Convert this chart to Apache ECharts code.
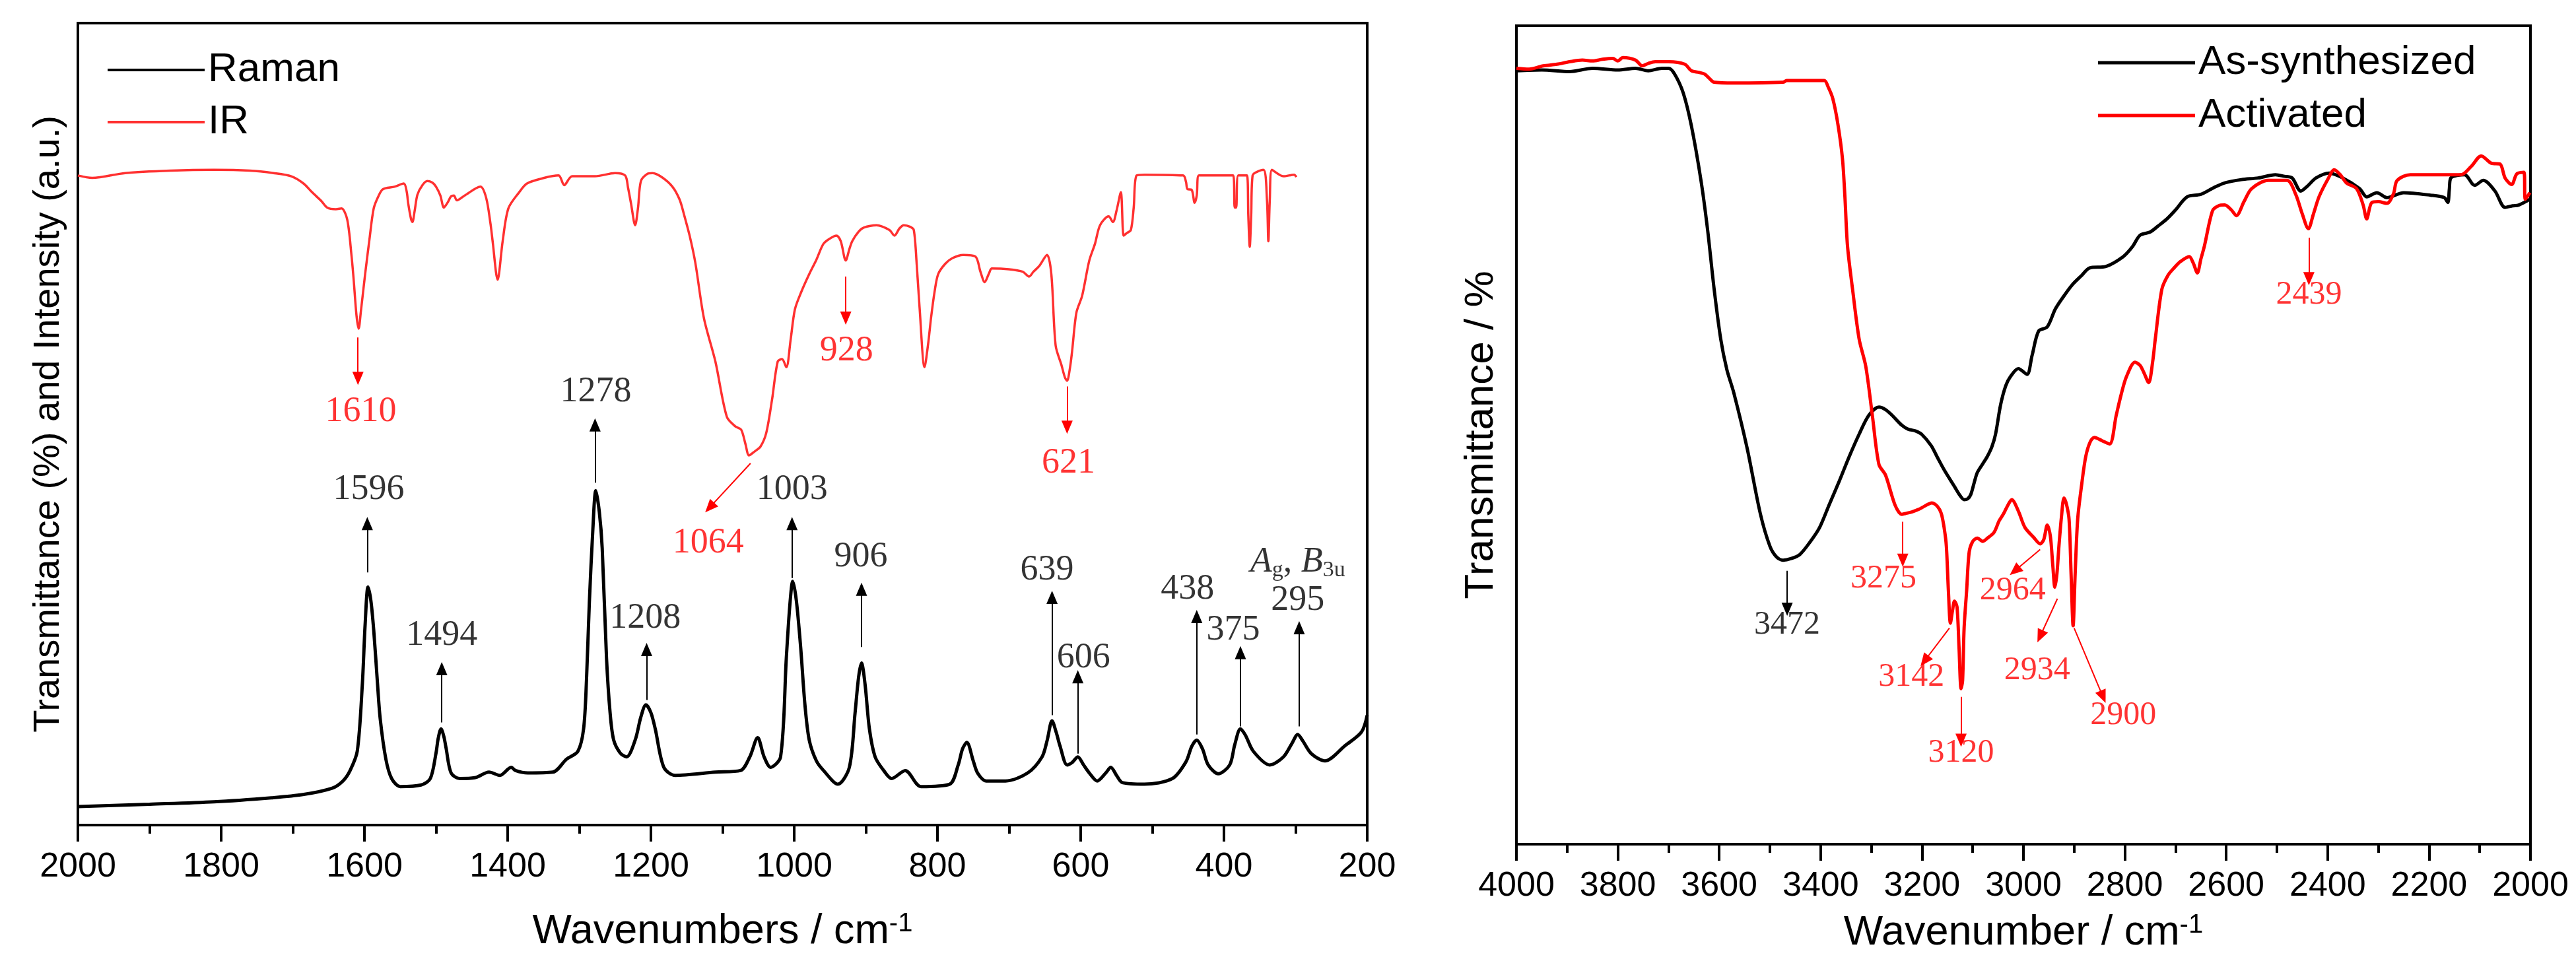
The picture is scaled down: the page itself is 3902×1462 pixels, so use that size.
<!DOCTYPE html>
<html>
<head>
<meta charset="utf-8">
<script src="https://cdn.jsdelivr.net/npm/echarts/dist/echarts.min.js"></script>
<style>
  html, body { margin: 0; padding: 0; background: #fff; }
  #chart { width: 3902px; height: 1462px; }
</style>
</head>
<body>
<div id="chart"></div>
<script>
// ---- data: [wavenumber, relative level 0..100] ----
const raman = [
  [2000,2.3],[1900,2.6],[1810,2.9],[1730,3.4],[1686,3.8],[1645,4.6],[1630,5.5],[1620,6.8],[1610,9.2],
  [1603,17.4],[1599,25],[1595,29.7],[1591,28],[1587,24.3],[1582,18],[1578,13.3],[1570,8.2],[1562,5.8],
  [1550,4.8],[1521,5.0],[1508,5.8],[1500,9],[1497,10.8],[1493,12.0],[1489,11],[1486,9.6],[1479,6.5],
  [1467,5.8],[1446,5.9],[1426,6.6],[1411,6.2],[1395,7.2],[1389,6.8],[1372,6.5],[1337,6.6],[1318,8.2],
  [1302,9.2],[1294,12.0],[1290,18],[1286,27.7],[1281,37],[1277,41.7],[1272,39],[1268,34.5],[1262,20.8],
  [1257,14],[1252,10.6],[1243,9],[1234,8.5],[1222,10.6],[1214,13.5],[1207,15.0],[1200,14],[1194,12.0],
  [1182,7.2],[1166,6.2],[1110,6.6],[1075,6.8],[1062,8.5],[1051,10.9],[1042,8.5],[1033,7.2],[1019,8.5],
  [1011,20.8],[1006,27.5],[1002,30.4],[997,28],[991,22.2],[985,15],[979,10.6],[969,8],[959,6.8],
  [939,5.1],[923,7.2],[915,14.0],[910,18.5],[906,20.2],[901,17.5],[895,12.0],[887,8.5],[875,6.8],
  [864,5.8],[845,6.8],[823,4.8],[783,5.1],[771,7.5],[765,9.5],[759,10.3],[750,8],[744,6.5],[732,5.5],
  [705,5.5],[674,6.5],[654,8.5],[647,10.5],[640,13.0],[634,11.5],[629,9.9],[619,7.5],[612,7.8],
  [604,8.5],[596,7.5],[588,6.5],[577,5.5],[565,6.5],[558,7.2],[550,6.2],[542,5.3],[511,5.1],[472,5.8],
  [453,7.9],[445,9.8],[438,10.6],[430,9.5],[422,7.5],[408,6.4],[392,7.5],[385,10],[377,12.0],[370,11.2],
  [359,9.2],[336,7.5],[317,8.5],[305,10.2],[297,11.3],[290,10.5],[278,8.9],[259,8.0],[231,9.9],
  [208,11.6],[200,13.7]
];

const ir = [
  [2000,81.0],[1980,80.7],[1934,81.3],[1870,81.6],[1810,81.7],[1760,81.6],[1727,81.3],[1702,80.9],
  [1685,80.0],[1673,78.9],[1660,77.8],[1652,77.0],[1640,76.8],[1632,76.9],[1624,75.5],[1618,71],
  [1615,68.0],[1611,63.5],[1608,61.9],[1605,64],[1599,68.7],[1593,73],[1587,76.9],[1580,78.5],
  [1574,79.3],[1558,79.6],[1545,80.0],[1541,79],[1539,77.6],[1535,75.6],[1533,75.2],[1530,76.5],
  [1526,78.6],[1519,79.8],[1512,80.3],[1505,80.1],[1500,79.6],[1494,78.5],[1489,77.0],[1484,77.6],
  [1479,78.4],[1475,78.5],[1471,77.9],[1460,78.5],[1438,79.6],[1430,78.2],[1424,75],[1421,72.8],
  [1414,68.0],[1407,72.8],[1399,76.9],[1384,78.9],[1373,80.0],[1349,80.7],[1329,81.0],[1321,79.8],
  [1310,80.9],[1278,80.9],[1250,81.3],[1236,81.0],[1232,79.5],[1228,77.6],[1222,74.8],[1218,77],
  [1214,80.3],[1205,81.2],[1198,81.3],[1185,80.8],[1170,79.6],[1160,78],[1154,76.2],[1146,73.5],
  [1138,70.1],[1126,63.2],[1110,57.8],[1094,50.9],[1082,49.7],[1074,49.3],[1068,47.5],[1063,46.1],
  [1055,46.6],[1047,47.2],[1039,48.9],[1031,53],[1023,57.8],[1017,58.1],[1011,57.1],[1005,60.5],
  [999,64.3],[990,66.5],[979,68.7],[969,70.5],[959,72.5],[949,73.2],[941,73.5],[935,72.8],[928,70.4],
  [923,71.8],[919,72.8],[910,74.0],[903,74.5],[885,74.8],[867,74.2],[860,73.5],[853,74.4],[847,74.8],
  [838,74.6],[833,74.2],[829,70],[825,64.6],[818,57.1],[813,60],[809,63.2],[804,66.5],[799,68.7],
  [789,70],[779,70.7],[764,71.1],[747,70.9],[740,69.0],[734,67.7],[728,68.8],[724,69.4],[700,69.3],
  [681,69.0],[672,68.4],[666,69.0],[658,69.7],[647,71.1],[641,68.7],[635,59.8],[627,57.4],[622,55.8],
  [619,55.4],[615,57],[612,59.1],[606,63.9],[598,66.0],[588,70.4],[580,72.5],[573,74.8],[561,75.9],
  [555,75.2],[550,76.6],[544,78.9],[540,73.5],[536,73.8],[530,74.2],[526,77],[522,81.0],[511,81.1],
  [457,81.0],[453,80.2],[451,79.3],[445,79.2],[441,77.6],[438,78.5],[435,81.0],[387,81.0],[385,77.0],
  [383,77.0],[380,81.0],[368,81.0],[366,76],[364,72.1],[362,76],[360,81.0],[345,81.7],[340,78],
  [338,72.8],[336,78],[333,81.7],[317,80.9],[302,81.1],[299,80.8]
];

const asSynth = [
  [4000,94.5],[3950,94.6],[3895,94.4],[3850,94.8],[3800,94.6],[3765,94.8],[3740,94.5],[3713,94.8],
  [3700,94.8],[3688,94.1],[3671,91.8],[3655,87.8],[3636,81.1],[3623,75.1],[3610,67.8],[3597,61.7],
  [3585,58],[3571,55.1],[3545,48.4],[3519,40.4],[3500,36.4],[3487,35.1],[3474,34.7],[3458,34.9],
  [3441,35.4],[3420,37],[3402,38.7],[3383,41.5],[3363,44.4],[3344,47.3],[3324,50.1],[3305,52.4],
  [3285,53.4],[3272,53.1],[3259,52.4],[3240,51.2],[3227,50.7],[3213,50.5],[3201,50.1],[3182,48.7],
  [3170,47.3],[3156,45.7],[3136,43.7],[3125,42.6],[3117,42.1],[3110,42.2],[3104,42.7],[3097,44.2],
  [3091,45.4],[3080,46.5],[3071,47.4],[3062,48.6],[3055,50.1],[3045,53.7],[3035,56],[3026,57.1],
  [3010,58.1],[2993,57.4],[2983,59.7],[2970,62.7],[2953,63.2],[2937,65.4],[2920,67],[2903,68.4],
  [2885,69.5],[2870,70.4],[2837,70.6],[2803,71.8],[2785,73],[2770,74.4],[2750,74.8],[2735,75.5],
  [2717,76.4],[2700,77.5],[2677,79.1],[2650,79.4],[2625,80.2],[2603,80.8],[2570,81.2],[2537,81.4],
  [2503,81.8],[2485,81.6],[2470,81.4],[2453,79.8],[2440,80.4],[2423,81.4],[2397,82.0],[2370,81.4],
  [2337,80.1],[2323,79.1],[2303,79.6],[2283,79.0],[2250,79.6],[2197,79.3],[2170,79.0],[2163,78.4],
  [2160,80],[2157,81.4],[2130,81.8],[2110,80.5],[2093,81.1],[2070,79.8],[2050,77.8],[2035,78.0],
  [2023,78.1],[2001,78.8]
];

const activated = [
  [4000,94.8],[3975,94.7],[3947,95.1],[3920,95.3],[3895,95.6],[3870,95.8],[3850,95.7],[3830,95.9],
  [3810,96.0],[3800,95.7],[3790,96.1],[3765,95.8],[3752,95.1],[3740,95.4],[3726,95.6],[3700,95.6],
  [3668,95.3],[3655,94.5],[3640,94.3],[3629,94.1],[3620,93.6],[3610,93.1],[3571,93.0],[3474,93.1],
  [3467,93.3],[3393,93.3],[3385,92.5],[3376,91.1],[3366,88],[3357,83.8],[3352,79],[3347,73.1],
  [3337,67.8],[3324,61.7],[3311,58.4],[3298,52.4],[3285,46.4],[3272,45.1],[3253,41.4],[3240,40.3],
  [3233,40.4],[3220,40.6],[3207,40.9],[3195,41.3],[3181,41.7],[3170,41.3],[3162,40.4],[3156,38.5],
  [3152,36.4],[3148,31],[3144,27.0],[3140,28.5],[3136,29.7],[3131,29.0],[3127,24],[3123,19.0],
  [3120,20],[3117,26.4],[3112,31],[3107,35.7],[3100,37],[3091,37.4],[3080,37.0],[3071,37.4],
  [3058,38.1],[3048,39.5],[3039,40.4],[3030,41.5],[3023,42.1],[3010,40.7],[2997,38.7],[2980,37.5],
  [2967,36.7],[2960,37.2],[2953,39.0],[2947,37.7],[2942,34],[2938,31.4],[2934,33],[2930,36.4],
  [2925,40],[2920,42.3],[2915,41.5],[2910,39.7],[2906,33],[2902,26.7],[2898,33],[2893,39.7],
  [2885,44],[2877,47.4],[2868,49.2],[2860,49.7],[2845,49.3],[2830,48.9],[2817,52.4],[2807,55],
  [2797,57.1],[2780,58.9],[2770,58.5],[2763,57.7],[2753,56.4],[2745,59],[2740,61.7],[2727,67.8],
  [2715,69.5],[2703,70.4],[2690,71.2],[2673,71.8],[2665,71],[2657,69.8],[2650,71.5],[2643,73.1],
  [2627,77.4],[2615,78.0],[2603,78.1],[2590,77.5],[2580,76.8],[2565,78.5],[2550,80.1],[2517,81.1],
  [2480,81.1],[2463,79.4],[2450,77],[2438,75.2],[2428,77],[2417,79.1],[2400,81.2],[2387,82.4],
  [2375,81.8],[2363,80.8],[2343,80.1],[2330,78.1],[2323,76.4],[2313,78.4],[2300,78.5],[2283,78.3],
  [2270,79.5],[2263,81.1],[2237,81.8],[2137,81.8],[2117,82.8],[2097,84.1],[2077,83.2],[2060,83.1],
  [2050,81.4],[2037,80.6],[2027,81.9],[2013,82.1],[2010,78.8],[2001,79.6]
];

// ---- peak annotations: text, arrow start/end, label centre (data coords) ----
const ramanPeaks = [
  { t: '1596', from: [1596, 31.5], to: [1596, 37.6], at: [1594, 41.8] },
  { t: '1494', from: [1492, 12.8], to: [1492, 19.5], at: [1492, 23.6] },
  { t: '1278', from: [1278, 42.7], to: [1278, 49.9], at: [1277, 54.0] },
  { t: '1208', from: [1206, 15.6], to: [1206, 21.9], at: [1208, 25.8] },
  { t: '1003', from: [1003, 30.8], to: [1003, 37.6], at: [1003, 41.8] },
  { t: '906',  from: [906, 22.2],  to: [906, 29.4],  at: [907, 33.4] },
  { t: '639',  from: [640, 13.7],  to: [640, 28.4],  at: [647, 31.8] },
  { t: '606',  from: [604, 8.9],   to: [604, 18.5],  at: [596, 20.8] },
  { t: '438',  from: [438, 11.3],  to: [438, 26.0],  at: [451, 29.4] },
  { t: '375',  from: [377, 12.3],  to: [377, 21.5],  at: [387, 24.3] },
  { t: '295',  from: [295, 12.3],  to: [295, 24.6],  at: [297, 28.0] }
];
const irPeaks = [
  { t: '1610', from: [1609, 60.8], to: [1609, 55.7], at: [1605, 51.5] },
  { t: '1064', from: [1061, 45.1], to: [1118, 39.6], at: [1120, 35.2] },
  { t: '928',  from: [928, 68.4],  to: [928, 63.2],  at: [927, 59.1] },
  { t: '621',  from: [619, 54.7],  to: [619, 49.6],  at: [617, 45.1] }
];
const asSynthPeaks = [
  { t: '3472', from: [3466, 33.4], to: [3466, 28.7], at: [3466, 26.8] }
];
const activatedPeaks = [
  { t: '3275', from: [3238, 39.4], to: [3238, 34.7], at: [3276, 32.4] },
  { t: '3142', from: [3146, 26.4], to: [3195, 22.4], at: [3221, 20.4] },
  { t: '3120', from: [3123, 18.0], to: [3123, 12.7], at: [3123, 11.1] },
  { t: '2964', from: [2967, 36.0], to: [3017, 33.4], at: [3021, 31.0] },
  { t: '2934', from: [2933, 30.0], to: [2967, 25.4], at: [2973, 21.2] },
  { t: '2900', from: [2900, 26.4], to: [2843, 18.0], at: [2803, 15.7] },
  { t: '2439', from: [2437, 74.1], to: [2437, 69.1], at: [2437, 67.1] }
];

const sans = 'Liberation Sans';
const serif = 'Liberation Serif';
const RED = '#ff0000';

const chart = echarts.init(document.getElementById('chart'));

function xAxisFor(gi, min, max, name, gap) {
  return {
    gridIndex: gi, type: 'value', min, max, interval: 200, inverse: true,
    name, nameLocation: 'middle', nameGap: gap,
    nameTextStyle: {
      fontFamily: sans, fontSize: 63, color: '#000', lineHeight: 63,
      rich: { sup: { fontFamily: sans, fontSize: 40, lineHeight: 40, verticalAlign: 'top', color: '#000' } }
    },
    axisLine: { show: true, onZero: false, lineStyle: { color: '#000', width: 4 } },
    axisTick: { show: true, length: 25, lineStyle: { color: '#000', width: 4 } },
    minorTick: { show: true, splitNumber: 2, length: 13, lineStyle: { color: '#000', width: 4 } },
    axisLabel: { margin: 38, fontFamily: sans, fontSize: 52, color: '#000', formatter: v => String(v) },
    splitLine: { show: false }, minorSplitLine: { show: false }
  };
}

function yAxisFor(gi, name, size, gap) {
  return {
    gridIndex: gi, type: 'value', min: 0, max: 100,
    name, nameLocation: 'middle', nameRotate: 90, nameGap: gap,
    nameTextStyle: { fontFamily: sans, fontSize: size, color: '#000' },
    axisLine: { show: true, lineStyle: { color: '#000', width: 4 } },
    axisTick: { show: false }, axisLabel: { show: false }, splitLine: { show: false }
  };
}

function curve(name, data, gi, color, width) {
  return {
    name, type: 'line', data, xAxisIndex: gi, yAxisIndex: gi,
    symbol: 'none', smooth: 0.3, z: 3,
    lineStyle: { color, width }, itemStyle: { color }
  };
}

function peaks(list, gi, color, size, extra) {
  const data = list.map(p => ({ value: p.at, name: p.t }));
  if (extra) data.push(extra);
  return {
    type: 'scatter', xAxisIndex: gi, yAxisIndex: gi, symbolSize: 0.1, silent: true, z: 5,
    itemStyle: { color: 'transparent' },
    data,
    label: { show: true, position: 'inside', formatter: '{b}', color, fontFamily: serif, fontSize: size },
    markLine: {
      silent: true, symbol: ['none', 'triangle'], symbolSize: [17, 20],
      lineStyle: { color, width: 2, type: 'solid', opacity: 1 },
      label: { show: false }, emphasis: { disabled: true },
      data: list.map(p => [{ coord: p.from }, { coord: p.to }])
    }
  };
}

// "Ag, B3u" symmetry label above the 295 band
const symLabel = {
  value: [297, 32.8], name: '',
  label: {
    formatter: '{i|A}{s|g}{n|, }{i|B}{s|3u}',
    rich: {
      i: { fontFamily: serif, fontStyle: 'italic', fontSize: 54, lineHeight: 60, color: '#000' },
      n: { fontFamily: serif, fontSize: 54, lineHeight: 60, color: '#000' },
      s: { fontFamily: serif, fontSize: 34, lineHeight: 34, verticalAlign: 'bottom', color: '#000' }
    }
  }
};

const frame = { show: true, borderColor: '#000', borderWidth: 4, backgroundColor: 'transparent' };
const legendText = { fontFamily: sans, fontSize: 62, color: '#000' };

chart.setOption({
  animation: false,
  backgroundColor: '#fff',
  grid: [
    Object.assign({ left: 118, top: 35, width: 1953, height: 1215, outerBoundsMode: 'none' }, frame),
    Object.assign({ left: 2297, top: 39, width: 1536, height: 1240, outerBoundsMode: 'none' }, frame)
  ],
  legend: [
    {
      data: ['Raman', 'IR'], orient: 'vertical', left: 158, top: 70, icon: 'rect',
      itemWidth: 147, itemHeight: 4, itemGap: 17, textStyle: legendText
    },
    {
      data: ['As-synthesized', 'Activated'], orient: 'vertical', left: 3173, top: 59, icon: 'rect',
      itemWidth: 147, itemHeight: 5, itemGap: 18, textStyle: legendText
    }
  ],
  xAxis: [
    xAxisFor(0, 200, 2000, 'Wavenumbers / cm{sup|-1}', 130),
    xAxisFor(1, 2000, 4000, 'Wavenumber / cm{sup|-1}', 103)
  ],
  yAxis: [
    yAxisFor(0, 'Transmittance (%) and Intensity (a.u.)', 56, 16),
    yAxisFor(1, 'Transmittance / %', 62, 22)
  ],
  series: [
    curve('Raman', raman, 0, '#000', 5),
    curve('IR', ir, 0, '#ff3030', 3.5),
    curve('As-synthesized', asSynth, 1, '#000', 5),
    curve('Activated', activated, 1, RED, 5),
    peaks(ramanPeaks, 0, '#000', 54, symLabel),
    peaks(irPeaks, 0, RED, 54),
    peaks(asSynthPeaks, 1, '#000', 50),
    peaks(activatedPeaks, 1, RED, 50)
  ]
});
</script>
</body>
</html>
